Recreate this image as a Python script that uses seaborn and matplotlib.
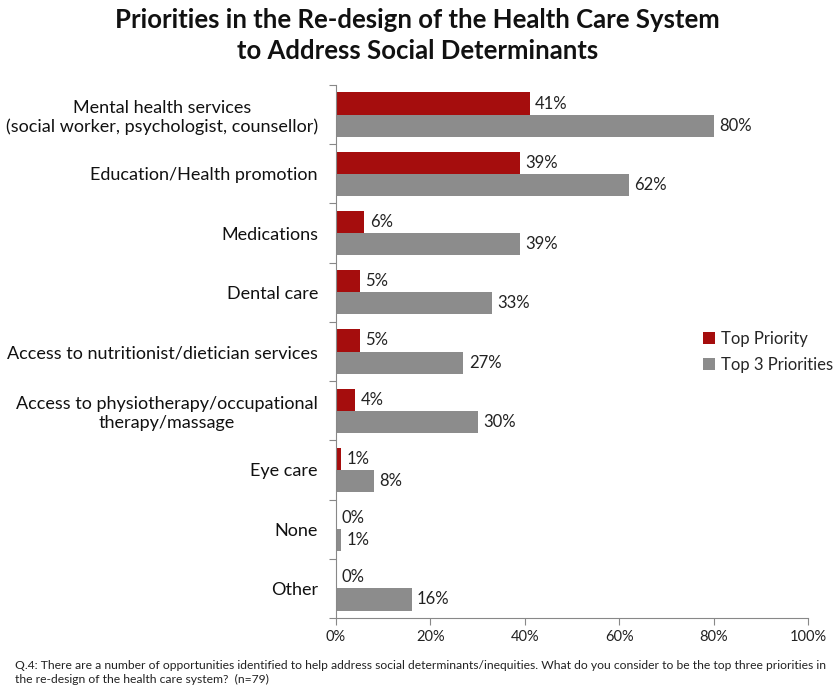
import matplotlib
matplotlib.use("Agg")
import matplotlib.pyplot as plt
import seaborn as sns
import pandas as pd
import numpy as np
from matplotlib.ticker import FixedLocator, PercentFormatter

categories = [
    "Mental health services\n(social worker, psychologist, counsellor)",
    "Education/Health promotion",
    "Medications",
    "Dental care",
    "Access to nutritionist/dietician services",
    "Access to physiotherapy/occupational\ntherapy/massage",
    "Eye care",
    "None",
    "Other",
]
top_priority = [41, 39, 6, 5, 5, 4, 1, 0, 0]
top3_priorities = [80, 62, 39, 33, 27, 30, 8, 1, 16]
series_names = ["Top Priority", "Top 3 Priorities"]
colors = ["#A50D0D", "#8C8C8C"]
x_ticks = [0, 20, 40, 60, 80, 100]

title = "Priorities in the Re-design of the Health Care System\nto Address Social Determinants"
footnote = ("Q.4: There are a number of opportunities identified to help address social determinants/inequities. "
            "What do you consider to be the top three priorities in\nthe re-design of the health care system?  (n=79)")

df = pd.DataFrame({
    "Category": categories * 2,
    "Series": [series_names[0]] * len(categories) + [series_names[1]] * len(categories),
    "Value": top_priority + top3_priorities,
})

sns.set_theme(style="white")
plt.rcParams["font.family"] = ["Lato", "DejaVu Sans"]

fig = plt.figure(figsize=(8.35, 6.92), dpi=100)
ax = fig.add_axes([336 / 835, 1 - 618 / 692, (808 - 336) / 835, (618 - 85) / 692])

sns.barplot(data=df, y="Category", x="Value", hue="Series", order=categories,
            hue_order=series_names, palette=colors, orient="h", width=0.75,
            saturation=1, ax=ax, legend=True, edgecolor="none", linewidth=0)

for cont in ax.containers:
    labels = [f"{v:.0f}%" for v in cont.datavalues]
    ax.bar_label(cont, labels=labels, padding=4, fontsize=12, color="#222222")

ax.set_xlim(0, 100)
ax.set_ylim(len(categories) - 0.5, -0.5)
ax.set_xticks(x_ticks)
ax.xaxis.set_major_formatter(PercentFormatter(decimals=0))
ax.set_xlabel("")
ax.set_ylabel("")
ax.tick_params(axis="x", labelsize=10.5, colors="#888888", length=5, width=0.8, direction="out", bottom=True, labelcolor="#222222")
ax.tick_params(axis="y", which="major", length=0, labelsize=13, labelcolor="#111111", pad=13)
ax.yaxis.set_minor_locator(FixedLocator(np.arange(-0.5, len(categories), 1)))
ax.tick_params(axis="y", which="minor", length=5, width=0.8, color="#888888", left=True, direction="out")
for lbl in ax.get_yticklabels():
    lbl.set_multialignment("center")

sns.despine(ax=ax, top=True, right=True)
for s in ["left", "bottom"]:
    ax.spines[s].set_color("#888888")
    ax.spines[s].set_linewidth(0.8)

handles, labs = ax.get_legend_handles_labels()
ax.legend(handles, labs, loc="upper left", bbox_to_anchor=(688 / 835, 1 - 316 / 692),
          bbox_transform=fig.transFigure, frameon=False, fontsize=12,
          handlelength=0.7, handleheight=0.7, handletextpad=0.4, labelspacing=0.6)

fig.text(0.5, 1 - 8 / 692, title, ha="center", va="top", fontsize=18.5, fontweight="bold",
         color="#111111", linespacing=1.35)
fig.text(15 / 835, 1 - 660 / 692, footnote, ha="left", va="top", fontsize=8.7, color="#222222",
         linespacing=1.3)

fig.savefig("out.png", dpi=100)
